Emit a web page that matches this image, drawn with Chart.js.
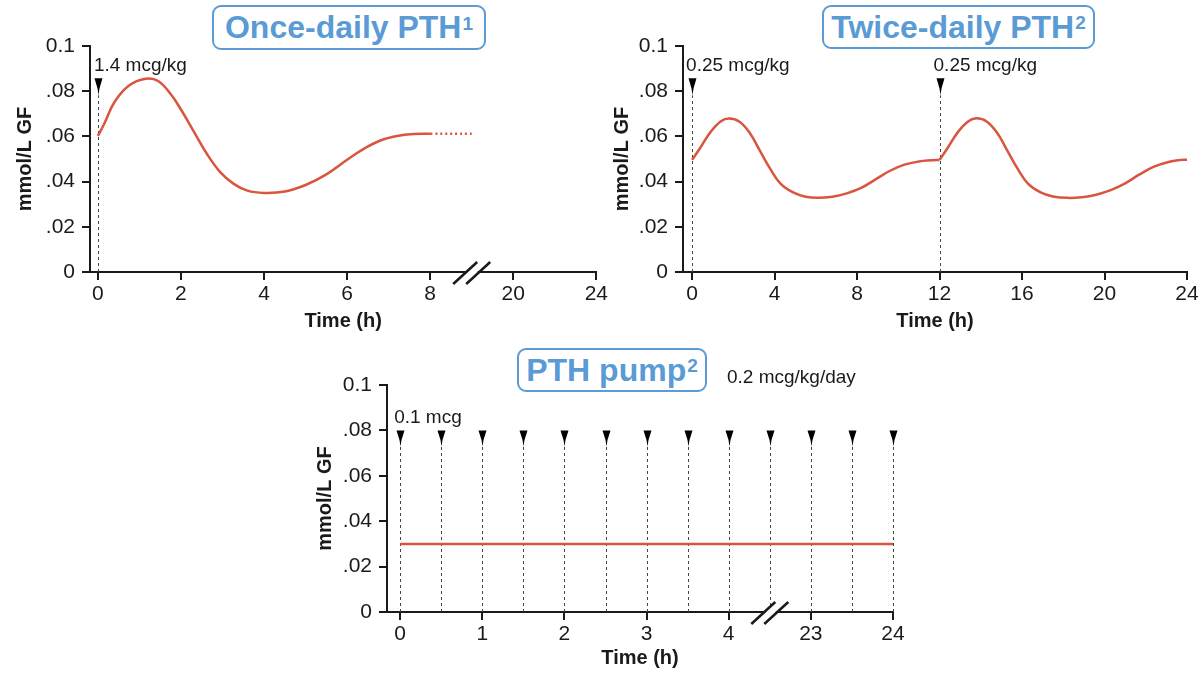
<!DOCTYPE html>
<html>
<head>
<meta charset="utf-8">
<script src="https://cdn.jsdelivr.net/npm/chart.js@4.4.0/dist/chart.umd.min.js"></script>
<style>
  html, body { margin:0; padding:0; background:#fff; }
  body { width:1203px; height:673px; position:relative; overflow:hidden; font-family:'Liberation Sans', Arial, sans-serif; }
  .wrap { position:absolute; }
  .tbox { position:absolute; box-sizing:border-box; border:2px solid #5b9bd5; border-radius:9px; background:#fff;
          color:#5b9bd5; font-weight:bold; font-size:32px; display:flex; align-items:center; justify-content:center; white-space:nowrap; z-index:2; }
  .tbox sup { font-size:19px; position:relative; top:-4px; margin-left:1px; }
</style>
</head>
<body>
<div class="wrap" style="left:0;top:0;width:610px;height:340px;"><canvas id="c1"></canvas></div>
<div class="wrap" style="left:600px;top:0;width:603px;height:340px;"><canvas id="c2"></canvas></div>
<div class="wrap" style="left:300px;top:330px;width:620px;height:343px;"><canvas id="c3"></canvas></div>
<div class="tbox" style="left:212px;top:5px;width:274px;height:45px;">Once-daily PTH<sup>1</sup></div>
<div class="tbox" style="left:822px;top:5px;width:273px;height:44px;">Twice-daily PTH<sup>2</sup></div>
<div class="tbox" style="left:517px;top:348px;width:190px;height:44px;">PTH pump<sup>2</sup></div>
<script>
// ---------------- DATA ----------------
const yTicks = [0, 0.02, 0.04, 0.06, 0.08, 0.1];
const yTickLabels = ['0', '.02', '.04', '.06', '.08', '0.1'];
const yAxisTitle = 'mmol/L GF';
const xAxisTitle = 'Time (h)';

// Once-daily PTH
const onceHours  = [0, 0.15, 0.4, 0.75, 1.15, 1.45, 1.76, 2.0, 2.3, 2.63, 2.95, 3.27, 3.6, 4.0, 4.5, 5.0, 5.5, 6.0, 6.4, 6.8, 7.2, 7.6, 8.0];
const onceValues = [0.0602, 0.0655, 0.0752, 0.0825, 0.0855, 0.0845, 0.0785, 0.0719, 0.0624, 0.0521, 0.0441, 0.039, 0.036, 0.035, 0.0356, 0.0385, 0.0432, 0.0497, 0.0545, 0.0582, 0.0602, 0.0611, 0.0612];
const onceTailHours  = [8.0, 8.45];
const onceTailValues = [0.0612, 0.0612];
const onceDoseHours  = [0];
const onceDoseLabels = ['1.4 mcg/kg'];
const onceTickHours  = [0, 2, 4, 6, 8, 20, 24];
const onceTickLabels = ['0', '2', '4', '6', '8', '20', '24'];

// Twice-daily PTH
const twiceHours  = [0, 0.4, 0.9, 1.4, 1.8, 2.3, 2.8, 3.3, 3.8, 4.3, 4.9, 5.5, 6.1, 6.8, 7.5, 8.2, 8.9, 9.6, 10.3, 11.0, 11.6, 12.0,
                     12.4, 12.9, 13.4, 13.8, 14.3, 14.8, 15.3, 15.8, 16.3, 16.9, 17.5, 18.2, 18.9, 19.6, 20.3, 21.0, 21.7, 22.4, 23.1, 23.6, 24.0];
const twiceValues = [0.0496, 0.055, 0.062, 0.0667, 0.0679, 0.0665, 0.0615, 0.0535, 0.0455, 0.039, 0.0352, 0.0333, 0.0328, 0.0333, 0.0348, 0.0372, 0.041, 0.0448, 0.0475, 0.0489, 0.0494, 0.0496,
                     0.055, 0.062, 0.0667, 0.068, 0.0665, 0.0615, 0.0535, 0.0455, 0.039, 0.0352, 0.0334, 0.0328, 0.0331, 0.0342, 0.0362, 0.0392, 0.0432, 0.0466, 0.0487, 0.0495, 0.0497];
const twiceDoseHours  = [0, 12];
const twiceDoseLabels = ['0.25 mcg/kg', '0.25 mcg/kg'];
const twiceTickHours  = [0, 4, 8, 12, 16, 20, 24];
const twiceTickLabels = ['0', '4', '8', '12', '16', '20', '24'];

// PTH pump
const pumpHours  = [0, 24];
const pumpValues = [0.03, 0.03];
const pumpDoseHours  = [0, 0.5, 1, 1.5, 2, 2.5, 3, 3.5, 4, 4.5, 23, 23.5, 24];
const pumpDoseLabels = ['0.1 mcg'];
const pumpRateLabel  = '0.2 mcg/kg/day';
const pumpTickHours  = [0, 1, 2, 3, 4, 23, 24];
const pumpTickLabels = ['0', '1', '2', '3', '4', '23', '24'];

// ---------------- RENDERING ----------------
const FONT = "'Liberation Sans', Arial, sans-serif";
const INK = '#1a1a1a';
const RED = '#d9553f';
Chart.defaults.font.family = FONT;
Chart.defaults.color = INK;

// axis mappings with breaks (hours -> axis position)
const posOnce  = h => h <= 8 ? h : (h >= 20 ? 10 + (h - 20) / 2 : 9);
const posTwice = h => h;
const posPump  = h => h <= 4 ? h : (h >= 23 ? h - 18 : 4.5);

const marks = {
  id: 'marks',
  beforeDatasetsDraw(chart, args, o) {
    const {ctx, scales: {x, y}} = chart;
    ctx.save();
    ctx.setLineDash([3, 3]);
    ctx.strokeStyle = '#444';
    ctx.lineWidth = 1;
    o.doses.forEach(h => {
      const px = Math.round(x.getPixelForValue(o.pos(h))) + 0.5;
      const top = y.getPixelForValue(o.arrowTop);
      ctx.beginPath();
      ctx.moveTo(px, y.getPixelForValue(0));
      ctx.lineTo(px, top + o.arrowH);
      ctx.stroke();
    });
    ctx.restore();
  },
  afterDraw(chart, args, o) {
    const {ctx, chartArea, scales: {x, y}} = chart;
    ctx.save();
    // arrows
    ctx.fillStyle = '#000';
    o.doses.forEach(h => {
      const px = Math.round(x.getPixelForValue(o.pos(h))) + 0.5;
      const top = y.getPixelForValue(o.arrowTop);
      ctx.beginPath();
      ctx.moveTo(px - o.arrowW / 2, top);
      ctx.lineTo(px + o.arrowW / 2, top);
      ctx.lineTo(px + 1, top + o.arrowH * 0.6);
      ctx.lineTo(px, top + o.arrowH);
      ctx.lineTo(px - 1, top + o.arrowH * 0.6);
      ctx.closePath();
      ctx.fill();
    });
    // dose labels
    ctx.font = '19px ' + FONT;
    ctx.fillStyle = INK;
    ctx.textBaseline = 'middle';
    ctx.textAlign = 'left';
    o.labels.forEach((t, i) => {
      const px = x.getPixelForValue(o.pos(o.doses[i]));
      ctx.fillText(t, px + o.labelDx, y.getPixelForValue(o.arrowTop) + o.labelDy);
    });
    if (o.extra) ctx.fillText(o.extra.text, o.extra.x, o.extra.y);
    // axis break
    if (o.breakAt !== undefined) {
      const cx = x.getPixelForValue(o.breakAt);
      const by = chartArea.bottom;
      ctx.fillStyle = '#fff';
      ctx.fillRect(cx - 6, by - 3, 12, 6);
      ctx.strokeStyle = INK;
      ctx.lineWidth = 2.5;
      [-6.5, 6.5].forEach(d => {
        ctx.beginPath();
        ctx.moveTo(cx + d - 12, by + 12);
        ctx.lineTo(cx + d + 12, by - 10);
        ctx.stroke();
      });
    }
    ctx.restore();
  }
};

function makeChart(id, cfg) {
  const xTicks = cfg.tickHours.map(cfg.pos);
  const datasets = cfg.series.map(s => ({
    data: s.h.map((h, i) => ({x: cfg.pos(h), y: s.v[i]})),
    borderColor: RED,
    borderWidth: 2.5,
    borderDash: s.dash || [],
    pointRadius: 0,
    tension: 0.4,
    fill: false
  }));
  return new Chart(document.getElementById(id), {
    type: 'line',
    data: {datasets},
    plugins: [marks],
    options: {
      responsive: true,
      maintainAspectRatio: false,
      animation: false,
      layout: {padding: cfg.padding},
      plugins: {
        legend: {display: false},
        tooltip: {enabled: false},
        marks: cfg.marks
      },
      scales: {
        x: {
          type: 'linear',
          min: cfg.xMin, max: cfg.xMax,
          afterBuildTicks: s => { s.ticks = xTicks.map(v => ({value: v})); },
          afterFit: s => { s.height = cfg.xHeight; },
          ticks: {
            autoSkip: false, maxRotation: 0, padding: 2,
            font: {size: 21},
            color: INK,
            callback: (v, i) => cfg.tickLabels[i]
          },
          grid: {display: true, drawOnChartArea: false, drawTicks: true, tickLength: 8, color: INK, lineWidth: 2},
          border: {display: true, color: INK, width: 2},
          title: {display: true, text: xAxisTitle, font: {size: 20, weight: 'bold'}, color: INK, padding: {top: 0, bottom: cfg.xTitlePad}}
        },
        y: {
          type: 'linear',
          min: 0, max: 0.1,
          afterBuildTicks: s => { s.ticks = yTicks.map(v => ({value: v})); },
          afterFit: s => { s.width = cfg.yWidth; },
          ticks: {
            padding: 7,
            font: {size: 21},
            color: INK,
            callback: (v, i) => yTickLabels[i]
          },
          grid: {display: true, drawOnChartArea: false, drawTicks: true, tickLength: 8, color: INK, lineWidth: 2},
          border: {display: true, color: INK, width: 2},
          title: {display: true, text: yAxisTitle, font: {size: 20, weight: 'bold'}, color: INK, padding: {top: cfg.yTitlePad, bottom: 0}}
        }
      }
    }
  });
}

makeChart('c1', {
  pos: posOnce,
  series: [{h: onceHours, v: onceValues}, {h: onceTailHours, v: onceTailValues, dash: [2, 3]}],
  tickHours: onceTickHours, tickLabels: onceTickLabels,
  xMin: -0.19, xMax: 12,
  padding: {left: 0, right: 13, top: 46, bottom: 0},
  xHeight: 68, yWidth: 90, xTitlePad: 7, yTitlePad: 13,
  marks: {doses: onceDoseHours, labels: onceDoseLabels, pos: posOnce, arrowTop: 0.0857, arrowH: 17, arrowW: 8,
          labelDx: -4, labelDy: -13, breakAt: 9}
});

makeChart('c2', {
  pos: posTwice,
  series: [
    {h: twiceHours.filter(h => h <= 12), v: twiceValues.filter((v, i) => twiceHours[i] <= 12)},
    {h: twiceHours.filter(h => h >= 12), v: twiceValues.filter((v, i) => twiceHours[i] >= 12)}
  ],
  tickHours: twiceTickHours, tickLabels: twiceTickLabels,
  xMin: -0.44, xMax: 24,
  padding: {left: 0, right: 16, top: 46, bottom: 0},
  xHeight: 68, yWidth: 83, xTitlePad: 7, yTitlePad: 10,
  marks: {doses: twiceDoseHours, labels: twiceDoseLabels, pos: posTwice, arrowTop: 0.0857, arrowH: 17, arrowW: 8,
          labelDx: -6, labelDy: -13}
});

makeChart('c3', {
  pos: posPump,
  series: [{h: pumpHours, v: pumpValues}],
  tickHours: pumpTickHours, tickLabels: pumpTickLabels,
  xMin: -0.16, xMax: 6,
  padding: {left: 0, right: 27, top: 55, bottom: 0},
  xHeight: 61, yWidth: 87, xTitlePad: 3, yTitlePad: 13,
  marks: {doses: pumpDoseHours, labels: pumpDoseLabels, pos: posPump, arrowTop: 0.08, arrowH: 16, arrowW: 8,
          labelDx: -6, labelDy: -13, breakAt: 4.5, extra: {text: pumpRateLabel, x: 427, y: 48}}
});
</script>
</body>
</html>
